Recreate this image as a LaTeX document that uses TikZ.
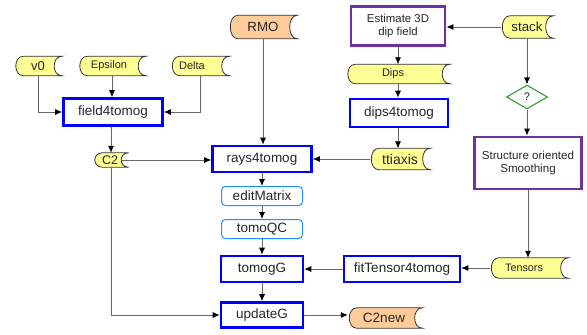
\documentclass[tikz,border=0pt]{standalone}
\usepackage{fontspec}
\setmainfont{Liberation Sans}
\usetikzlibrary{arrows.meta,shapes.geometric}
\pgfdeclarelayer{bg}\pgfsetlayers{bg,main}
\definecolor{sdyel}{HTML}{FFFF94}
\definecolor{sdora}{HTML}{FFCC99}
\definecolor{procblue}{HTML}{0000FF}
\definecolor{purp}{HTML}{7030A0}
\definecolor{lblue}{HTML}{1E90FF}
\definecolor{dgreen}{HTML}{2E9E2E}
\tikzset{
  x=1pt, y=-1pt,
  every node/.style={inner sep=0pt, text=black!85},
  proc/.style={draw=procblue, line width=2.6pt, font=\fontsize{13.5}{15}\selectfont},
  task/.style={draw=purp, line width=2.8pt, align=center, font=\fontsize{11.4}{12.5}\selectfont},
  soft/.style={draw=lblue, line width=1pt, rounded corners=4pt, font=\fontsize{13.5}{15}\selectfont},
  sd/.style={},
  sdtxt/.style={font=\fontsize{#1}{13}\selectfont},
  sdtxt/.default=11,
  sdline/.style={draw=black!80, line width=0.8pt},
  conn/.style={draw=black!60, line width=0.8pt, -{Latex[length=7pt,width=6pt,color=black]}},
}
\begin{document}
\begin{tikzpicture}
\useasboundingbox (0,0) rectangle (587,335);
% stored data nodes
\node[sd, minimum width=68pt, minimum height=23pt, label={[sdtxt=13.3]center:RMO}] (rmo) at (263,27) {};
\node[sd, minimum width=52pt, minimum height=22pt, label={[sdtxt=13.3]center:stack}] (stack) at (527,27) {};
\node[sd, minimum width=47pt, minimum height=19pt, label={[sdtxt=13]center:v0}] (v0) at (38,66) {};
\node[sd, minimum width=67pt, minimum height=19pt, label={[sdtxt=11,xshift=-3pt]center:Epsilon}] (eps) at (112,66) {};
\node[sd, minimum width=58pt, minimum height=19pt, label={[sdtxt=11,xshift=-8pt]center:Delta}] (delta) at (200,66) {};
\node[sd, minimum width=103pt, minimum height=19pt, label={[sdtxt=11,xshift=-5pt]center:Dips}] (dips) at (398,74) {};
\node[sd, minimum width=35pt, minimum height=14pt, label={[sdtxt=12.5,xshift=-1pt]center:C2}] (c2) at (111,160) {};
\node[sd, minimum width=60pt, minimum height=21pt, label={[sdtxt=14]center:ttiaxis}] (tti) at (400,159) {};
\node[sd, minimum width=78pt, minimum height=20pt, label={[sdtxt=10.8,xshift=-5pt]center:Tensors}] (tens) at (529,268) {};
\node[sd, minimum width=74pt, minimum height=20pt, label={[sdtxt=13.5,xshift=-1pt]center:C2new}] (c2new) at (385,318) {};
% processes
\node[proc, minimum width=99pt, minimum height=27pt] (f4t) at (113,112) {field4tomog};
\node[proc, minimum width=98pt, minimum height=28pt] (d4t) at (399,113) {dips4tomog};
\node[proc, minimum width=99pt, minimum height=26pt] (rays) at (262,159) {rays4tomog};
\node[soft, minimum width=81pt, minimum height=19pt] (edit) at (262,196) {editMatrix};
\node[soft, minimum width=81pt, minimum height=19pt] (qc) at (262,229) {tomoQC};
\node[proc, minimum width=82pt, minimum height=26pt] (tomog) at (262,269) {tomogG};
\node[proc, minimum width=82pt, minimum height=25pt] (upd) at (262,315) {updateG};
\node[proc, minimum width=116pt, minimum height=26pt] (fit) at (402,269) {fitTensor4tomog};
\node[task, minimum width=94pt, minimum height=39pt] (est) at (398,26) {Estimate 3D\\dip field};
\node[task, minimum width=107pt, minimum height=52pt, font=\fontsize{11.6}{13}\selectfont] (sos) at (528,163) {Structure oriented\\Smoothing};
\node[diamond, draw=dgreen, line width=1.1pt, minimum width=41pt, minimum height=24pt, font=\fontsize{11}{12}\selectfont] (q) at (527,97) {?};
% stored data outlines
\begin{pgfonlayer}{bg}
\foreach \n/\c in {rmo/sdora, stack/sdyel, v0/sdyel, eps/sdyel, delta/sdyel, dips/sdyel, c2/sdyel, tti/sdyel, tens/sdyel, c2new/sdora}{
  \draw[sdline, fill=\c] ([xshift=9pt]\n.north west) -- (\n.north east)
    .. controls ([xshift=-10pt]\n.north east) and ([xshift=-10pt]\n.south east) .. (\n.south east)
    -- ([xshift=9pt]\n.south west)
    .. controls ([xshift=-1pt]\n.south west) and ([xshift=-1pt]\n.north west) .. cycle;
}
\end{pgfonlayer}
% connectors
\draw[conn] (v0.south) |- (f4t.west);
\draw[conn] (eps.south) -- (eps.south |- f4t.north);
\draw[conn] (delta.south) |- (f4t.east);
\draw[conn] (f4t.south -| c2.north) -- (c2.north);
\draw[conn] ([xshift=-7pt]c2.east) -- (c2.east -| rays.west);
\draw[conn] (c2.south) |- (upd.west);
\draw[conn] (rmo.south) -- (rmo.south |- rays.north);
\draw[conn] (tti.west) -- (tti.west -| rays.east);
\draw[conn] (rays.south) -- (edit.north);
\draw[conn] (edit.south) -- (qc.north);
\draw[conn] (qc.south) -- (tomog.north);
\draw[conn] (tomog.south) -- (upd.north);
\draw[conn] (upd.east) -- (upd.east -| c2new.west);
\draw[conn] (stack.west) -- (stack.west -| est.east);
\draw[conn] (est.south) -- (dips.north -| est.south);
\draw[conn] (dips.south -| est.south) -- (d4t.north -| est.south);
\draw[conn] (d4t.south -| est.south) -- (tti.north -| est.south);
\draw[conn] (stack.south) -- (q.north);
\draw[conn] (q.south) -- (sos.north -| q.south);
\draw[conn] (sos.south) -- (tens.north -| sos.south);
\draw[conn] (tens.west) -- (tens.west -| fit.east);
\draw[conn] (fit.west) -- (fit.west -| tomog.east);
\end{tikzpicture}
\end{document}
